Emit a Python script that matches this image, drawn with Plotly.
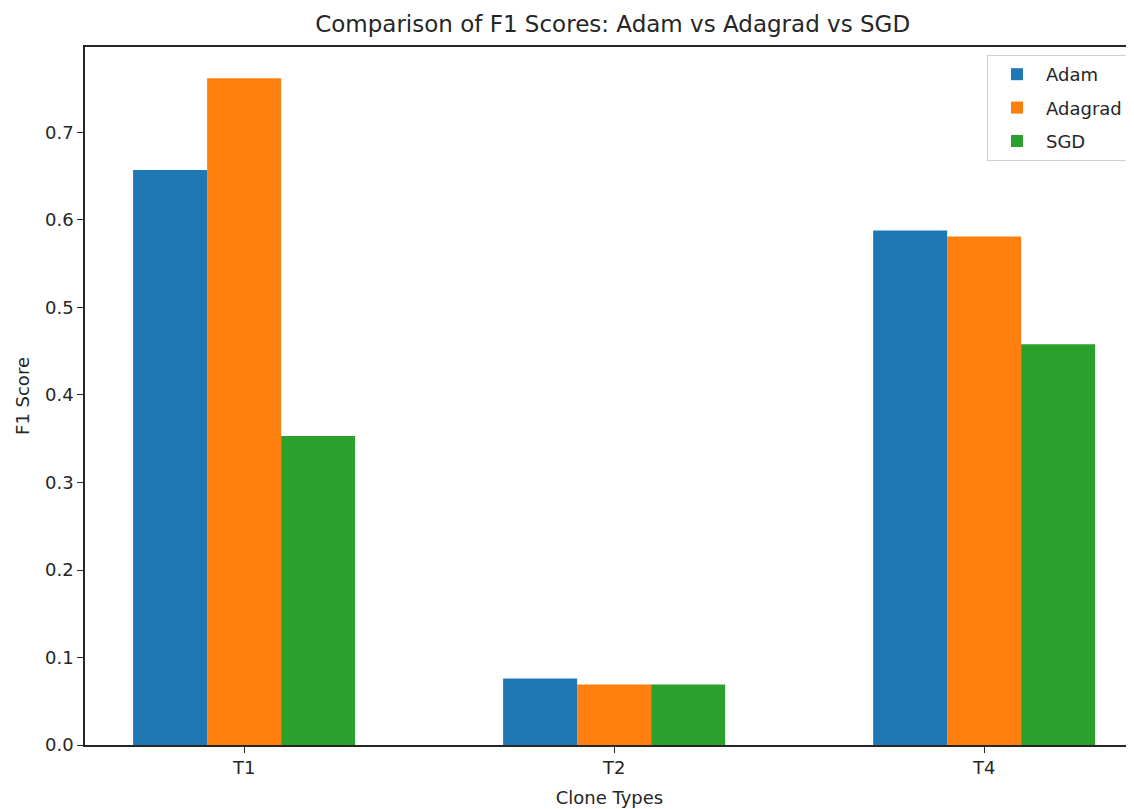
import plotly.graph_objects as go

categories = ["T1", "T2", "T4"]
adam = [0.657, 0.076, 0.588]
adagrad = [0.762, 0.069, 0.581]
sgd = [0.353, 0.069, 0.458]
series_names = ["Adam", "Adagrad", "SGD"]
colors = ["#1f77b4", "#ff7f0e", "#2ca02c"]

FONT = "DejaVu Sans"
fig = go.Figure()
for i, (name, vals, col) in enumerate(zip(series_names, [adam, adagrad, sgd], colors)):
    fig.add_trace(go.Bar(x=categories, y=vals, name=name, marker=dict(color=col, line=dict(width=0)),
                         legendgroup=name))

W, H = 1126, 801
L, R, T, B = 77, 0, 39, 64
fig.update_layout(
    width=W, height=H,
    margin=dict(l=L, r=R, t=T, b=B),
    paper_bgcolor="white", plot_bgcolor="white",
    barmode="group", bargap=0.4, bargroupgap=0,
    font=dict(family=FONT, size=18, color="#262626"),
    title=dict(text="Comparison of F1 Scores: Adam vs Adagrad vs SGD",
               x=0.503, xref="paper", xanchor="center",
               y=1 - 16 / H, yref="container", yanchor="middle",
               font=dict(family=FONT, size=23, color="#262626")),
    xaxis=dict(range=[-0.43, 2.405], showline=True, linecolor="#262626", linewidth=1.5,
               mirror=True, ticks="outside", ticklen=6, tickcolor="#262626", tickwidth=1.3,
               showgrid=False, zeroline=False,
               title=dict(text="Clone Types", standoff=14, font=dict(size=18))),
    yaxis=dict(range=[0, 0.7977], showline=True, linecolor="#262626", linewidth=1.5,
               mirror=False, ticks="outside", ticklen=6, tickcolor="#262626", tickwidth=1.3,
               tickvals=[0, 0.1, 0.2, 0.3, 0.4, 0.5, 0.6, 0.7], tickformat=".1f",
               showgrid=False, zeroline=False,
               title=dict(text="F1 Score", standoff=11, font=dict(size=18))),
    legend=dict(x=(987 - 85) / 1049, y=(745 - 55) / 698, xanchor="left", yanchor="top",
                bgcolor="white", bordercolor="#d0d0d0", borderwidth=1,
                font=dict(family=FONT, size=18), tracegroupgap=7, itemwidth=48,
                traceorder="grouped"),
)
fig.write_html("out.html")
